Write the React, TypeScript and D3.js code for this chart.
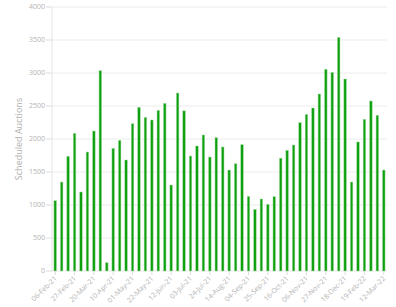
import React from "react";
import * as d3 from "d3";

const weeks: string[] = [
  "06-Feb-21", "13-Feb-21", "20-Feb-21", "27-Feb-21", "06-Mar-21", "13-Mar-21", "20-Mar-21",
  "27-Mar-21", "03-Apr-21", "10-Apr-21", "17-Apr-21", "24-Apr-21", "01-May-21", "08-May-21",
  "15-May-21", "22-May-21", "29-May-21", "05-Jun-21", "12-Jun-21", "19-Jun-21", "26-Jun-21",
  "03-Jul-21", "10-Jul-21", "17-Jul-21", "24-Jul-21", "31-Jul-21", "07-Aug-21", "14-Aug-21",
  "21-Aug-21", "28-Aug-21", "04-Sep-21", "11-Sep-21", "18-Sep-21", "25-Sep-21", "02-Oct-21",
  "09-Oct-21", "16-Oct-21", "23-Oct-21", "30-Oct-21", "06-Nov-21", "13-Nov-21", "20-Nov-21",
  "27-Nov-21", "04-Dec-21", "11-Dec-21", "18-Dec-21", "05-Feb-22", "12-Feb-22", "19-Feb-22",
  "26-Feb-22", "05-Mar-22", "12-Mar-22",
];

const auctions: number[] = [
  1065, 1348, 1738, 2086, 1197, 1803, 2121, 3035, 126, 1859, 1980, 1682, 2232,
  2480, 2329, 2288, 2435, 2541, 1303, 2697, 2427, 1742, 1894, 2061, 1727, 2020,
  1879, 1530, 1626, 1914, 1131, 934, 1091, 1010, 1126, 1710, 1829, 1909, 2247,
  2374, 2470, 2682, 3056, 3010, 3540, 2909, 1348, 1955, 2298, 2576, 2359, 1530,
];

const yTicks: number[] = [0, 500, 1000, 1500, 2000, 2500, 3000, 3500, 4000];
const yTitle = "Scheduled Auctions";

const W = 396;
const H = 307;
const FONT = "'Open Sans', 'DejaVu Sans', sans-serif";

export default function App() {
  const left = 52;
  const right = 387;
  const top = 7;
  const bottom = 271;

  const x = d3.scaleBand<string>().domain(weeks).range([left, right]).paddingInner(0.6).paddingOuter(0.3);
  const y = d3.scaleLinear().domain([0, 4000]).range([bottom, top]);

  const labelIdx = weeks.map((_, i) => i).filter((i) => i % 3 === 0);

  return (
    <svg
      width={W}
      height={H}
      style={{ position: "absolute", left: 0, top: 0, background: "#fff" }}
      fontFamily={FONT}
    >
      {yTicks.map((t) => (
        <g key={t}>
          <line x1={left} x2={right} y1={y(t)} y2={y(t)} stroke="#ececec" strokeWidth={1} />
          <line x1={left - 6} x2={left} y1={y(t)} y2={y(t)} stroke="#dcdcdc" strokeWidth={1} />
          <text x={left - 7} y={y(t)} dy="0.35em" textAnchor="end" fontSize={7} fill="#b3b3b3">
            {t}
          </text>
        </g>
      ))}
      <line x1={left} x2={left} y1={top} y2={bottom} stroke="#e3e3e3" strokeWidth={1} />
      <text
        transform={`translate(${22},${(top + bottom) / 2}) rotate(-90)`}
        textAnchor="middle"
        fontSize={9}
        fill="#b0b0b0"
      >
        {yTitle}
      </text>
      {weeks.map((w, i) => (
        <rect
          key={w}
          x={x(w)!}
          y={y(auctions[i])}
          width={x.bandwidth()}
          height={bottom - y(auctions[i])}
          fill="#0fa00f"
          stroke="#a6dea6"
          strokeWidth={0.5}
        />
      ))}
      {labelIdx.map((i) => {
        const cx = x(weeks[i])! + x.bandwidth() / 2;
        return (
          <g key={weeks[i]}>
            <line x1={cx} x2={cx} y1={bottom} y2={bottom + 4} stroke="#dcdcdc" strokeWidth={1} />
            <text
              transform={`translate(${cx + 2},${bottom + 8}) rotate(-45)`}
              textAnchor="end"
              fontSize={7}
              fill="#b3b3b3"
            >
              {weeks[i]}
            </text>
          </g>
        );
      })}
    </svg>
  );
}
